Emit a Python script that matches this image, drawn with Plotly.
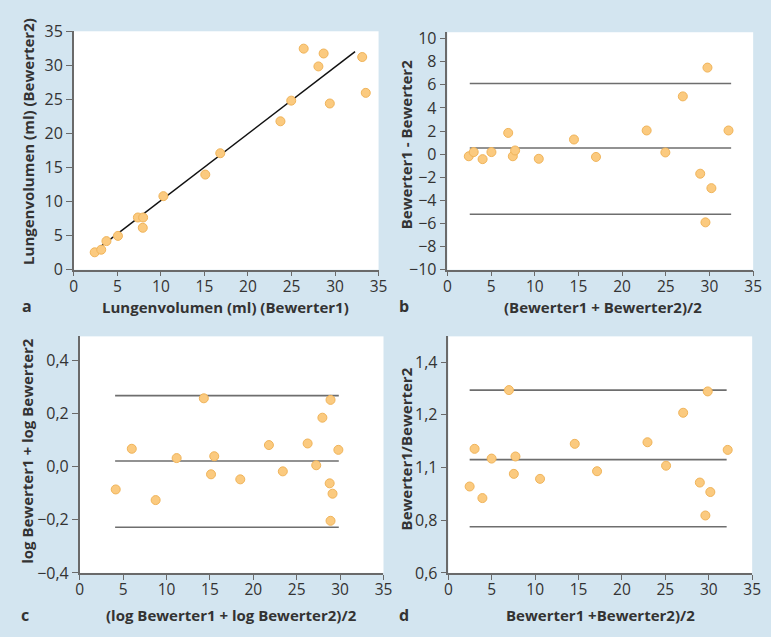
import plotly.graph_objects as go

# ---------------- data ----------------
# Panel a: Lungenvolumen Bewerter1 vs Bewerter2
a_x = [2.4, 3.15, 3.75, 5.07, 7.36, 7.96, 7.92, 10.29, 15.1, 16.82, 23.73, 24.97, 26.4, 28.09, 28.69, 29.4, 33.12, 33.53]
a_y = [2.56, 2.94, 4.2, 4.97, 7.67, 7.67, 6.16, 10.8, 13.97, 17.1, 21.79, 24.82, 32.45, 29.84, 31.74, 24.4, 31.22, 25.96]
a_line_x = [2.9, 32.3]
a_line_y = [3.2, 32.0]

# Panel b: Bland-Altman differences
b_x = [2.45, 3.01, 4.03, 5.04, 6.96, 7.49, 7.75, 10.46, 14.49, 17.01, 22.81, 24.95, 26.95, 28.94, 29.54, 29.77, 30.22, 32.18]
b_y = [-0.18, 0.18, -0.43, 0.18, 1.84, -0.18, 0.32, -0.4, 1.27, -0.24, 2.05, 0.15, 5.0, -1.69, -5.9, 7.49, -2.94, 2.05]
b_line_x = [2.56, 32.48]
b_levels = [6.12, 0.54, -5.2]

# Panel c: log differences
c_x = [4.15, 6.0, 8.75, 11.17, 14.3, 15.13, 15.5, 18.5, 21.8, 23.4, 26.26, 27.25, 27.96, 28.9, 28.8, 29.13, 28.9, 29.8]
c_y = [-0.086, 0.067, -0.126, 0.032, 0.257, -0.029, 0.039, -0.048, 0.081, -0.018, 0.087, 0.005, 0.184, 0.251, -0.063, -0.102, -0.204, 0.063]
c_line_x = [4.08, 29.85]
c_levels = [0.267, 0.021, -0.228]

# Panel d: ratios
d_x = [2.45, 3.02, 3.92, 4.98, 6.98, 7.54, 7.73, 10.56, 14.56, 17.13, 22.94, 25.08, 27.05, 28.97, 29.61, 29.88, 30.18, 32.18]
d_y = [0.928, 1.071, 0.884, 1.034, 1.294, 0.976, 1.042, 0.957, 1.09, 0.986, 1.096, 1.007, 1.208, 0.943, 0.818, 1.289, 0.907, 1.067]
d_line_x = [2.45, 32.06]
d_levels = [1.294, 1.03, 0.775]

# tick labels
x_ticks = [0, 5, 10, 15, 20, 25, 30, 35]
a_yticks = [0, 5, 10, 15, 20, 25, 30, 35]
b_yticks = [-10, -8, -6, -4, -2, 0, 2, 4, 6, 8, 10]
b_yticktext = ["\u221210", "\u22128", "\u22126", "\u22124", "\u22122", "0", "2", "4", "6", "8", "10"]
c_yticks = [-0.4, -0.2, 0.0, 0.2, 0.4]
c_yticktext = ["\u22120,4", "\u22120,2", "0,0", "0,2", "0,4"]
d_yticks = [0.6, 0.8, 1.0, 1.2, 1.4]
d_yticktext = ["0,6", "0,8", "1,1", "1,2", "1,4"]

# axis titles and panel letters
titles_x = ["Lungenvolumen (ml) (Bewerter1)", "(Bewerter1 + Bewerter2)/2",
            "(log Bewerter1 + log Bewerter2)/2", "Bewerter1 +Bewerter2)/2"]
titles_y = ["Lungenvolumen (ml) (Bewerter2)", "Bewerter1 - Bewerter2",
            "log Bewerter1 + log Bewerter2", "Bewerter1/Bewerter2"]
letters = ["a", "b", "c", "d"]

# ---------------- styling ----------------
BG = "#d3e5f0"
AXIS = "#6a6a6a"
TXT = "#333333"
FONT = "Open Sans"
MFILL = "#fbca7f"
MLINE = "#f0b45a"
LVL = "#6e6e6e"

W, H = 771, 637

def dom_x(l, r):
    return [l / W, r / W]

def dom_y(t, b):
    return [1 - b / H, 1 - t / H]

fig = go.Figure()

marker = dict(color=MFILL, size=9, line=dict(color=MLINE, width=1))

def scatter(x, y, xa, ya):
    fig.add_trace(go.Scatter(x=x, y=y, mode="markers", marker=marker,
                             xaxis=xa, yaxis=ya, showlegend=False, hoverinfo="x+y"))

def hline(xs, level, xa, ya, color=LVL):
    fig.add_trace(go.Scatter(x=xs, y=[level, level], mode="lines",
                             line=dict(color=color, width=1.6),
                             xaxis=xa, yaxis=ya, showlegend=False, hoverinfo="skip"))

# panel a
fig.add_trace(go.Scatter(x=a_line_x, y=a_line_y, mode="lines",
                         line=dict(color="#111111", width=1.5),
                         xaxis="x", yaxis="y", showlegend=False, hoverinfo="skip"))
scatter(a_x, a_y, "x", "y")
# panel b
for lv in b_levels:
    hline(b_line_x, lv, "x2", "y2")
scatter(b_x, b_y, "x2", "y2")
# panel c
for lv in c_levels:
    hline(c_line_x, lv, "x3", "y3")
scatter(c_x, c_y, "x3", "y3")
# panel d
for lv in d_levels:
    hline(d_line_x, lv, "x4", "y4")
scatter(d_x, d_y, "x4", "y4")

def xax(domain, anchor):
    return dict(domain=domain, anchor=anchor, range=[0, 35], tickvals=x_ticks,
                showline=True, linecolor=AXIS, linewidth=1.5, ticks="outside",
                ticklen=5, tickcolor=AXIS, tickwidth=1.2, showgrid=False, zeroline=False,
                ticklabelstandoff=-3,
                tickfont=dict(family=FONT, size=15.5, color=TXT))

def yax(domain, anchor, rng, tv, tt):
    return dict(domain=domain, anchor=anchor, range=rng, tickvals=tv, ticktext=tt,
                showline=True, linecolor=AXIS, linewidth=1.5, ticks="outside",
                ticklen=6, tickcolor=AXIS, tickwidth=1.2, showgrid=False, zeroline=False,
                ticklabelstandoff=0,
                tickfont=dict(family=FONT, size=16, color=TXT))

fig.update_layout(
    width=W, height=H,
    margin=dict(l=0, r=0, t=0, b=0),
    paper_bgcolor=BG, plot_bgcolor="white",
    font=dict(family=FONT, color=TXT),
    xaxis=xax(dom_x(71, 381), "y"),
    yaxis=yax(dom_y(21, 268), "x", [0, 35], a_yticks, [str(v) for v in a_yticks]),
    xaxis2=xax(dom_x(451, 762), "y2"),
    yaxis2=yax(dom_y(22, 268), "x2", [-10, 10.55], b_yticks, b_yticktext),
    xaxis3=xax(dom_x(77, 386), "y3"),
    yaxis3=yax(dom_y(337, 582), "x3", [-0.4, 0.49], c_yticks, c_yticktext),
    xaxis4=xax(dom_x(452, 761), "y4"),
    yaxis4=yax(dom_y(337, 582), "x4", [0.6, 1.498], d_yticks, d_yticktext),
)

title_font = dict(family=FONT, size=15, color=TXT, weight="bold")
xt_pos = [(225, 307), (609, 307), (231, 626), (607, 626)]
yt_pos = [(25, 135), (409, 139), (24, 456), (409, 454)]
lt_pos = [(23, 306), (407, 306), (21, 626), (407, 626)]

for txt, (px, py) in zip(titles_x, xt_pos):
    fig.add_annotation(text=txt, x=px / W, y=1 - py / H, xref="paper", yref="paper",
                       showarrow=False, xanchor="center", yanchor="middle", font=title_font)
for txt, (px, py) in zip(titles_y, yt_pos):
    fig.add_annotation(text=txt, x=px / W, y=1 - py / H, xref="paper", yref="paper",
                       showarrow=False, xanchor="center", yanchor="middle", textangle=-90,
                       font=title_font)
for txt, (px, py) in zip(letters, lt_pos):
    fig.add_annotation(text=txt, x=px / W, y=1 - py / H, xref="paper", yref="paper",
                       showarrow=False, xanchor="center", yanchor="middle",
                       font=dict(family=FONT, size=16, color=TXT, weight="bold"))

fig.write_html("out.html", config={"displayModeBar": False},
               post_script="document.body.style.margin='0';document.body.style.overflow='hidden';")
